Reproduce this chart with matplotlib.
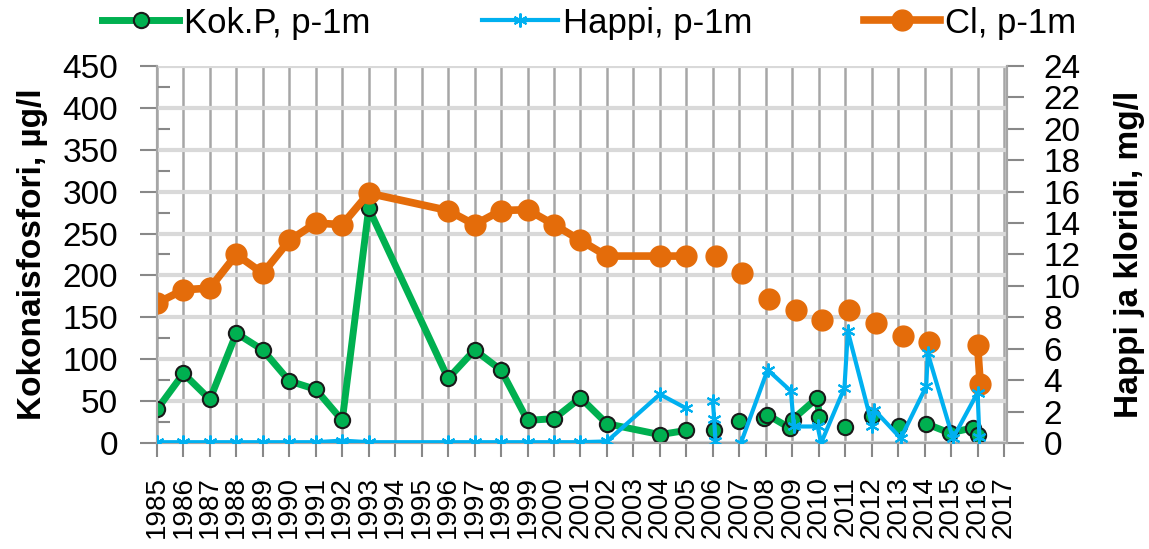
import numpy as np
import matplotlib
matplotlib.use('Agg')
from matplotlib import pyplot as plt

nan = np.nan

# Kokonaisfosfori (left axis, ug/l)
kok_x = [1985, 1986, 1987, 1988, 1989, 1990, 1991, 1992, 1993, 1996, 1997, 1998, 1999, 2000, 2001, 2002, 2004, 2005,
         2005.5, 2006.03, 2006.5, 2007.0, 2007.5,
         2007.94, 2008.04, 2008.9, 2009.01, 2009.95, 2010.02, 2010.5,
         2011.0, 2011.5, 2012.0, 2012.5, 2013.05, 2013.5,
         2014.06, 2014.94, 2015.82, 2016.0]
kok_p = [40, 83, 52, 131, 111, 74, 64, 27, 280, 77, 111, 87, 27, 29, 54, 23, 10, 15,
         nan, 16, nan, 26, nan,
         30, 34, 18, 28, 54, 31, nan,
         19, nan, 32, nan, 20, nan,
         23, 12, 18, 10]

# Happi (right axis, mg/l)
happi_x = [1985, 1986, 1987, 1988, 1989, 1990, 1991, 1992, 1993, 1996, 1997, 1998, 1999, 2000, 2001, 2002, 2004, 2005,
           2005.5, 2006.0, 2006.05, 2006.1, 2006.5,
           2007.06, 2008.07, 2008.95, 2009.06, 2009.96, 2010.09, 2010.97, 2011.1,
           2012.03, 2012.1, 2013.1, 2014.06, 2014.12, 2015.07, 2016.0, 2016.07]
happi = [0.05, 0.05, 0.05, 0.05, 0.05, 0.05, 0.05, 0.15, 0.05, 0.05, 0.05, 0.05, 0.05, 0.05, 0.05, 0.1, 3.1, 2.2,
         nan, 2.7, 1.5, 0.1, nan,
         0.0, 4.66, 3.3, 1.05, 1.05, 0.0, 3.5, 7.1,
         1.05, 2.1, 0.3, 3.6, 5.7, 0.3, 3.2, 0.4]

# Kloridi (right axis, mg/l)
cl_x = [1985, 1986, 1987, 1988, 1989, 1990, 1991, 1992, 1993, 1996, 1997, 1998, 1999, 2000, 2001, 2002, 2004, 2005,
        2005.5, 2006.11, 2006.6, 2007.12, 2007.6, 2008.13, 2008.6, 2009.14, 2009.6, 2010.14, 2010.6,
        2011.15, 2011.6, 2012.16, 2012.6, 2013.17, 2013.6, 2014.18, 2014.6, 2016.0, 2016.1]
cl = [8.9, 9.75, 9.86, 12.0, 10.8, 12.9, 14.0, 13.9, 15.9, 14.8, 13.9, 14.8, 14.85, 13.9, 12.9, 11.9, 11.9, 11.9,
      nan, 11.9, nan, 10.85, nan, 9.16, nan, 8.48, nan, 7.84, nan,
      8.48, nan, 7.63, nan, 6.78, nan, 6.4, nan, 6.25, 3.77]

years = list(range(1985, 2018))

green = '#00b050'
blue = '#00b0f0'
orange = '#e46c0a'

plt.rcParams['font.family'] = ['Liberation Sans', 'DejaVu Sans']

fig = plt.figure(figsize=(11.49, 5.49), dpi=100)
ax = fig.add_axes([0.1366, 0.1931, 0.7400, 0.6867])
ax2 = ax.twinx()

l1, = ax.plot(kok_x, kok_p, color=green, lw=5, marker='o', ms=11, mfc=green, mec='#1a1a1a', mew=1.5,
              label='Kok.P, p-1m', zorder=3)
l2, = ax2.plot(happi_x, happi, color=blue, lw=3, marker=(6, 2, 0), ms=10, mec=blue, mew=1.5,
               label='Happi, p-1m', zorder=3)
l3, = ax2.plot(cl_x, cl, color=orange, lw=5.5, marker='o', ms=15, mfc=orange, mec=orange,
               label='Cl, p-1m', zorder=2)

ax.set_xlim(1985, 2017.12)
ax.set_ylim(0, 450)
ax2.set_ylim(0, 24)
ax.set_yticks(np.arange(0, 451, 50))
ax.set_yticks(np.arange(25, 450, 50), minor=True)
ax2.set_yticks(np.arange(0, 25, 2))
ax.set_xticks(years)
ax.set_xticklabels([str(y) for y in years], rotation=90, fontsize=20)

ax.grid(axis='y', color='#d9d9d9', lw=3)
ax.grid(axis='x', color='#a6a6a6', lw=1.8)
ax.set_axisbelow(True)

ax.tick_params(axis='y', which='major', labelsize=24, length=12, width=1.5, color='#888888', direction='out', pad=16)
ax.tick_params(axis='y', which='minor', length=9, width=1.5, color='#888888', direction='in')
ax.tick_params(axis='x', length=10, width=1.5, color='#888888', direction='out', pad=14)
ax2.tick_params(axis='y', labelsize=24, length=12, width=1.5, color='#888888', direction='out', pad=14)

for a in (ax, ax2):
    for s in a.spines.values():
        s.set_color('#a6a6a6')
        s.set_linewidth(1.5)
ax.spines['top'].set_visible(False)
ax2.spines['top'].set_visible(False)

ax.set_ylabel('Kokonaisfosfori, µg/l', fontsize=24, fontweight='bold', labelpad=10)
ax2.set_ylabel('Happi ja kloridi, mg/l', fontsize=24, fontweight='bold', labelpad=24)

fig.legend(handles=[l1, l2, l3], loc='center', bbox_to_anchor=(0.513, 0.958), ncol=3, frameon=False,
           fontsize=25, handlelength=2.2, columnspacing=3.2, handletextpad=0.15)

plt.savefig('out.png', dpi=100)
